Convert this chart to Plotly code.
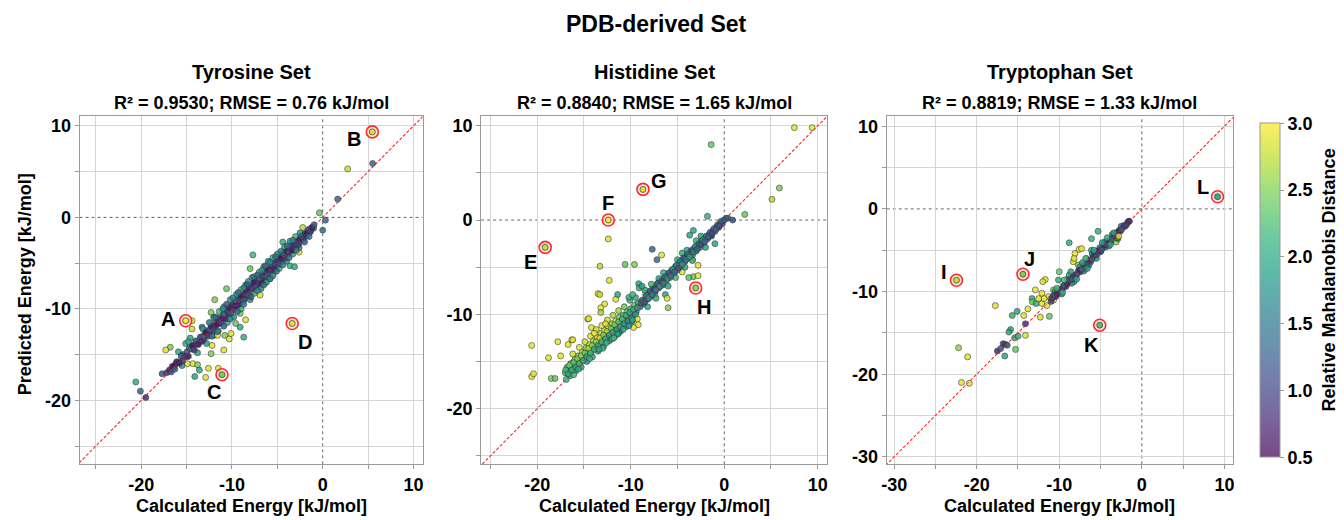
import plotly.graph_objects as go

# ---------------- DATA ----------------
# Tyrosine set: calculated energy, predicted energy, relative Mahalanobis distance
tyr_calc = [
    5.5, 2.75, 1.65, -0.36, 0.3, 0.0, -20.6, -20.1, -19.5, -17.7, -17.2, -16.8, -17.3, -16.4, -16.1, -15.9,
    -15.5, -15.1, -14.9, -14.4, -14.4, -14.6, -14.3, -14.1, -13.8, -13.6, -13.3, -13.1, -12.9, -12.6, -12.2, -12.3,
    -12.0, -12.3, -12.0, -11.6, -11.5, -10.8, -10.9, -10.3, -10.1, -10.6, -9.6, -9.1, -8.7, -8.5, -9.1, -7.7,
    -6.3, -5.5, -5.8, -3.6, -3.1, -2.6, -4.4, -4.2, -2.2, -8.0, -7.5, -6.9, -10.9, -11.9, -13.3, -14.2,
    -16.6, -16.2, -15.8, -15.4, -15.0, -14.7, -14.3, -14.0, -13.7, -13.4, -13.1, -12.8, -12.5, -12.2, -11.9, -11.6,
    -11.3, -11.0, -10.8, -10.5, -10.3, -10.0, -9.8, -9.6, -9.4, -9.2, -9.0, -8.8, -8.6, -8.4, -8.2, -8.0,
    -7.8, -7.6, -7.4, -7.2, -7.0, -6.8, -6.6, -6.4, -6.2, -6.0, -5.8, -5.6, -5.4, -5.2, -5.0, -4.8,
    -4.6, -4.4, -4.2, -4.0, -3.8, -3.6, -3.4, -3.2, -3.0, -2.8, -2.6, -2.4, -2.2, -2.0, -1.8, -1.6,
    -1.4, -1.2, -1.0,
    -14.8, -13.2, -12.0, -11.4, -10.2, -9.5, -9.0, -8.5, -8.2, -7.8, -7.0, -6.5, -6.0, -5.5, -5.0, -4.2,
    -3.6, -3.0, -2.5, -10.5, -9.8, -9.0, -8.0, -7.5, -6.8, -6.2, -5.5, -4.8, -4.0, -3.3, -2.6, -12.8,
    -13.8, -15.5, -11.5,
    -16.9, -16.7, -16.45, -16.3, -16.05, -15.85, -15.6, -15.45, -15.2, -14.95, -14.8, -14.55, -14.35, -14.15, -13.9, -13.75,
    -13.5, -13.3, -13.05, -12.9, -12.65, -12.45, -12.3, -12.05, -11.85, -11.7, -11.45, -11.2, -11.05, -10.9, -10.7, -10.45,
    -10.25, -10.1, -9.9, -9.7, -9.5, -9.35, -9.15, -8.95, -8.75, -8.55, -8.35, -8.15, -7.95, -7.75, -7.55, -7.35,
    -7.15, -6.95, -6.75, -6.55, -6.35, -6.15, -5.95, -5.75, -5.55, -5.35, -5.15, -4.95, -4.75, -4.55, -4.35, -4.15,
    -3.95, -3.75, -3.55, -3.35, -3.15, -2.95, -2.75, -2.55, -2.35, -2.15, -1.95, -1.75, -1.55, -1.35, -1.15, -0.95,
    -12.5, -11.8, -11.0, -10.6, -9.9, -9.3, -8.7, -8.3, -7.6, -7.2, -6.7, -6.3, -5.8, -5.2, -4.6, -3.9,
    -3.3, -12.2, -11.6, -10.9, -10.2, -9.4, -8.7, -7.9, -7.2, -6.5, -5.8, -5.1, -4.4, -3.7, -2.9, -2.0,
    -1.5,
]
tyr_pred = [
    5.9, 5.3, 2.0, 0.5, -0.3, -1.4, -18.0, -19.0, -19.7, -17.1, -17.0, -14.2, -14.5, -16.4, -15.8, -14.7,
    -15.1, -13.8, -16.0, -11.3, -12.2, -13.2, -16.0, -17.4, -16.1, -16.7, -12.0, -12.9, -17.5, -16.5, -14.0, -14.9,
    -12.9, -10.4, -10.9, -12.9, -16.5, -12.9, -14.5, -13.3, -12.7, -7.8, -11.6, -12.0, -13.1, -11.2, -10.5, -4.1,
    -7.1, -6.2, -6.7, -5.3, -5.4, -3.8, -2.7, -3.8, -1.1, -5.6, -6.7, -8.5, -9.8, -9.0, -13.5, -14.0,
    -16.3, -16.0, -15.9, -15.0, -15.2, -14.3, -14.4, -13.5, -13.9, -13.1, -13.4, -12.4, -12.7, -11.9, -12.2, -11.3,
    -11.6, -10.6, -11.0, -10.2, -10.6, -9.6, -10.1, -9.2, -9.6, -8.9, -9.3, -8.4, -8.9, -8.1, -8.6, -7.7,
    -8.1, -7.3, -7.7, -6.8, -7.3, -6.5, -6.9, -6.1, -6.6, -5.7, -6.1, -5.3, -5.7, -4.9, -5.3, -4.5,
    -4.9, -4.1, -4.5, -3.8, -4.0, -3.4, -3.6, -3.0, -3.2, -2.6, -2.8, -2.2, -2.4, -1.9, -2.0, -1.5,
    -1.6, -1.1, -1.2,
    -13.6, -12.2, -11.0, -10.3, -9.0, -8.4, -7.9, -7.4, -7.0, -6.6, -6.0, -5.4, -4.8, -4.4, -4.0, -3.2,
    -2.6, -2.1, -1.7, -11.5, -10.9, -10.0, -9.0, -8.3, -7.8, -7.1, -6.4, -5.6, -4.8, -4.0, -3.3, -13.8,
    -14.8, -16.2, -12.4,
    -16.7, -16.9, -16.3, -16.6, -15.8, -15.95, -15.2, -15.7, -15.2, -14.7, -15.2, -14.4, -14.0, -14.5, -13.6, -13.85,
    -13.1, -13.55, -13.0, -12.6, -13.0, -12.3, -11.9, -12.4, -11.6, -11.75, -11.05, -11.45, -11.0, -10.6, -11.1, -10.3,
    -9.85, -10.45, -9.6, -9.75, -9.05, -9.6, -9.1, -8.6, -9.15, -8.4, -7.95, -8.5, -7.65, -7.8, -7.1, -7.6,
    -7.1, -6.65, -7.15, -6.4, -6.0, -6.5, -5.7, -5.8, -5.15, -5.6, -5.1, -4.7, -5.1, -4.4, -4.0, -4.45,
    -3.7, -3.8, -3.2, -3.6, -3.1, -2.7, -3.05, -2.4, -2.05, -2.4, -1.75, -1.8, -1.3, -1.55, -1.1, -0.8,
    -11.5, -10.9, -10.0, -9.5, -8.8, -8.2, -7.7, -7.3, -6.5, -6.3, -5.8, -5.3, -4.9, -4.3, -3.7, -3.1,
    -2.5, -13.0, -12.5, -11.9, -11.1, -10.3, -9.5, -8.7, -8.0, -7.4, -6.7, -5.9, -5.2, -4.4, -3.6, -2.7,
    -2.1,
]
tyr_mahal = [
    1.3, 2.8, 1.4, 2.4, 1.3, 1.4, 2.1, 1.3, 0.8, 1.2, 0.9, 2.5, 2.9, 1.3, 1.4, 2.0,
    1.3, 2.1, 2.9, 2.9, 2.8, 2.0, 2.9, 2.0, 2.5, 2.0, 1.4, 2.9, 2.9, 2.9, 2.9, 2.5,
    2.4, 2.5, 2.1, 2.9, 2.9, 2.5, 2.9, 2.9, 2.9, 2.4, 2.4, 2.1, 2.1, 2.9, 2.5, 2.2,
    2.1, 2.9, 2.4, 2.1, 2.1, 2.9, 2.1, 2.4, 2.7, 2.4, 2.1, 2.9, 2.1, 2.5, 2.1, 2.1,
    1.3, 0.9, 1.1, 1.4, 0.8, 1.6, 0.7, 1.9, 1.0, 1.2, 0.8, 1.5, 0.7, 1.1, 0.9, 1.3,
    0.6, 1.7, 0.8, 1.0, 0.7, 1.4, 0.9, 1.8, 0.6, 1.2, 0.8, 1.6, 1.0, 0.7, 1.3, 0.9,
    1.5, 1.1, 0.6, 1.9, 0.8, 1.2, 0.7, 1.4, 1.0, 0.8, 1.6, 0.9, 0.6, 1.3, 1.0, 0.7,
    1.2, 0.9, 1.5, 0.6, 1.1, 0.8, 1.3, 0.7, 1.0, 0.9, 1.2, 0.7, 1.4, 0.8, 1.1, 0.9,
    1.3, 0.8, 1.6,
    2.0, 1.9, 2.1, 2.2, 1.9, 2.0, 2.3, 1.8, 2.1, 1.9, 2.2, 2.0, 1.8, 2.1, 1.9, 2.0,
    1.8, 2.2, 1.9, 2.0, 1.8, 2.1, 1.9, 2.2, 1.8, 2.0, 1.9, 2.1, 1.8, 2.0, 1.9, 1.9,
    2.0, 1.8, 2.1,
    0.7, 1.1, 0.6, 1.3, 0.9, 0.65, 1.5, 0.8, 1.0, 1.2, 0.75, 1.4, 0.6, 1.0, 1.3, 0.7,
    1.1, 0.8, 1.5, 0.6, 0.9, 1.2, 0.7, 1.0, 1.4, 0.6, 0.9, 1.1, 0.7, 1.3, 0.8, 1.0,
    0.6, 1.2, 0.9, 0.7, 1.5, 0.8, 1.0, 0.65, 1.2, 0.9, 0.7, 1.3, 0.8, 1.0, 0.6, 1.1,
    0.9, 1.4, 0.7, 1.0, 0.8, 1.2, 0.6, 0.9, 1.3, 0.7, 1.0, 0.8, 1.1, 0.6, 1.4, 0.9,
    0.7, 1.0, 1.2, 0.6, 0.8, 1.1, 0.9, 0.7, 1.3, 0.8, 1.0, 0.6, 1.2, 0.9, 0.7, 1.1,
    1.5, 1.3, 1.7, 1.2, 1.6, 1.4, 1.7, 1.2, 1.5, 1.3, 1.7, 1.2, 1.6, 1.4, 1.5, 1.3,
    1.6, 1.4, 1.5, 1.2, 1.6, 1.3, 1.5, 1.2, 1.6, 1.4, 1.5, 1.3, 1.6, 1.4, 1.5, 1.3,
    1.4,
]

# Histidine set
his_calc = [
    7.5, 9.4, -1.4, 5.9, 5.1, 2.2, -1.8, 0.9, -20.6, -20.6, -20.4, -18.8, -17.8, -18.5, -18.1, -17.5,
    -16.7, -16.3, -14.6, -13.3, -12.4, -12.3, -10.6, -9.6, -7.7, -6.7, -7.2, -13.5, -13.3, -12.8, -13.2, -13.2,
    -11.6, -11.4, -9.15, -9.1, -6.0, -14.5, -14.2, -16.2, -3.3, -2.8, -3.8, -2.8, -3.4, -4.5, -3.7, -3.3,
    -1.35, -1.0, 0.4, -6.3, -6.1, -7.4, -8.4, -9.3, -9.2, -9.7,
    -17.0, -16.8, -16.6, -16.4, -16.2, -16.0, -15.8, -15.6, -15.4, -15.2, -15.0, -14.8, -14.6, -14.4, -14.2, -14.0,
    -13.8, -13.6, -13.4, -13.2, -13.0, -12.8, -12.6, -12.4, -12.2, -12.0, -11.8, -11.6, -11.4, -11.2, -11.0, -10.8,
    -10.6, -10.4, -10.2, -10.0, -9.8, -9.6, -9.4, -9.2,
    -16.5, -15.9, -15.3, -14.7, -14.1, -13.5, -12.9, -12.3, -11.7, -11.1, -10.5, -9.9, -16.9, -16.1, -13.0, -11.3,
    -16.2, -15.5, -14.9, -14.3, -13.7, -13.1, -12.5, -11.9, -11.3, -10.7, -10.1, -9.5, -13.9, -12.7,
    -9.0, -8.8, -8.6, -8.4, -8.2, -8.0, -7.8, -7.6, -7.4, -7.2, -7.0, -6.8, -6.6, -6.4, -6.2, -6.0,
    -5.8, -5.6, -5.4, -5.2, -5.0, -4.8, -4.6, -4.4, -4.2, -4.0, -3.8, -3.6, -3.4, -3.2, -3.0, -2.8,
    -2.6, -2.4, -2.2, -2.0, -1.8, -1.6, -1.4, -1.2, -1.0, -0.8, -0.6, -0.4, -0.2, 0.2,
    -8.5, -7.8, -7.0, -6.5, -5.0, -4.5, -4.0, -3.0, -2.5, -8.2, -7.3, -6.0, -5.2, -4.2, -3.4, -2.0,
    -10.2, -9.8, -8.8,
    -16.95, -16.7, -16.55, -16.3, -16.1, -15.9, -15.7, -15.5, -15.3, -15.1, -14.9, -14.7, -14.5, -14.3, -14.1, -13.9,
    -13.7, -13.5, -13.3, -13.1, -12.9, -12.7, -12.5, -12.3, -12.1, -11.9, -11.7, -11.5, -11.3, -11.1, -10.9, -10.7,
    -10.5, -10.3, -10.1, -9.9, -9.7, -9.5, -9.3,
    -12.6, -12.0, -11.4, -10.8, -10.2, -9.8, -11.8, -13.4, -14.4, -15.6,
    -8.9, -8.7, -8.5, -8.3, -8.1, -7.9, -7.7, -7.5, -7.3, -7.1, -6.9, -6.7, -6.5, -6.3, -6.1, -5.9,
    -5.7, -5.5, -5.3, -5.1, -4.9, -4.7, -4.5, -4.3, -4.1, -3.9, -3.7, -3.5, -3.3, -3.1, -2.9, -2.7,
    -2.5, -2.3, -2.1, -1.9, -1.7, -1.5, -1.3, -1.1, -0.9, -0.7, -0.5, -0.3, 0.0,
]
his_pred = [
    9.8, 9.8, 8.0, 3.4, 2.2, 0.6, 0.4, 0.0, -13.3, -16.6, -16.3, -14.6, -12.9, -16.8, -16.8, -14.4,
    -13.2, -12.7, -10.5, -4.9, -2.0, -6.4, -4.7, -4.7, -3.1, -3.7, -4.2, -7.8, -7.9, -8.9, -9.3, -9.8,
    -8.4, -7.9, -6.75, -7.2, -9.3, -10.45, -11.4, -12.7, -6.0, -5.9, -6.1, -4.8, -4.2, -5.5, -1.6, -1.1,
    -1.7, -2.5, 0.2, -7.9, -8.3, -7.9, -7.8, -10.5, -11.1, -11.4,
    -16.2, -15.6, -16.0, -15.2, -15.8, -14.8, -15.3, -14.4, -15.0, -14.0, -14.6, -13.6, -14.2, -13.2, -13.9, -12.8,
    -13.5, -12.4, -13.1, -12.0, -12.7, -11.7, -12.4, -11.3, -12.0, -11.0, -11.7, -10.7, -11.4, -10.3, -11.0, -10.1,
    -10.8, -9.7, -10.4, -9.4, -10.1, -9.0, -9.7, -8.8,
    -16.5, -16.0, -15.6, -15.0, -14.5, -13.9, -13.4, -12.8, -12.3, -11.8, -11.3, -10.8, -16.9, -16.4, -13.6, -12.0,
    -14.2, -13.5, -12.9, -12.3, -11.6, -11.2, -10.6, -10.1, -9.6, -9.2, -8.5, -8.2, -12.0, -11.0,
    -9.2, -8.5, -8.9, -8.1, -8.4, -7.7, -8.1, -7.2, -7.6, -6.8, -7.2, -6.4, -6.9, -6.1, -6.5, -5.7,
    -6.1, -5.3, -5.7, -4.9, -5.3, -4.5, -4.9, -4.1, -4.4, -3.7, -4.0, -3.4, -3.7, -3.0, -3.3, -2.6,
    -2.9, -2.2, -2.5, -1.8, -2.0, -1.5, -1.6, -1.1, -1.2, -0.7, -0.8, -0.3, -0.4, 0.2,
    -7.4, -6.8, -6.2, -5.6, -4.2, -3.5, -3.2, -2.2, -1.7, -9.2, -8.3, -7.0, -6.1, -5.0, -4.3, -2.9,
    -8.2, -7.9, -7.0,
    -15.9, -16.3, -15.4, -15.9, -15.1, -15.6, -14.7, -15.2, -14.4, -14.9, -14.1, -14.5, -13.6, -14.1, -13.3, -13.7,
    -12.9, -13.3, -12.5, -12.9, -12.2, -12.6, -11.8, -12.2, -11.5, -11.9, -11.1, -11.6, -10.8, -11.3, -10.5, -11.0,
    -10.1, -10.7, -9.8, -10.4, -9.5, -10.0, -9.3,
    -13.0, -12.6, -12.1, -11.6, -11.2, -10.6, -12.5, -13.7, -14.7, -15.8,
    -8.8, -8.6, -8.7, -8.0, -8.3, -7.5, -7.9, -7.3, -7.4, -6.7, -7.0, -6.5, -6.7, -6.0, -6.2, -5.6,
    -5.9, -5.2, -5.5, -4.8, -5.1, -4.4, -4.7, -4.0, -4.2, -3.6, -3.9, -3.2, -3.4, -2.8, -3.1, -2.5,
    -2.6, -2.1, -2.3, -1.7, -1.8, -1.3, -1.4, -0.9, -1.0, -0.5, -0.6, -0.1, 0.0,
]
his_mahal = [
    2.9, 2.9, 2.4, 2.5, 2.7, 2.4, 2.1, 1.0, 2.9, 2.9, 2.9, 2.9, 2.9, 2.5, 2.4, 2.9,
    2.9, 2.9, 2.9, 2.7, 2.9, 2.9, 2.4, 2.5, 1.3, 2.9, 1.4, 2.9, 2.8, 2.9, 2.9, 2.6,
    2.9, 2.0, 2.0, 2.1, 2.5, 2.9, 2.9, 2.9, 2.4, 2.9, 2.3, 2.9, 2.9, 2.9, 2.0, 2.0,
    1.6, 2.0, 1.6, 2.0, 2.9, 2.9, 2.9, 2.9, 2.9, 2.9,
    2.3, 2.2, 2.1, 2.4, 2.2, 2.5, 2.1, 2.6, 2.3, 2.7, 2.2, 2.5, 2.1, 2.8, 2.3, 2.6,
    2.2, 2.9, 2.0, 2.7, 2.3, 2.8, 2.1, 2.9, 2.4, 2.6, 2.2, 2.8, 2.0, 2.5, 2.2, 2.3,
    1.9, 2.4, 2.0, 2.2, 1.8, 2.3, 1.9, 2.1,
    2.0, 1.9, 2.0, 1.9, 2.0, 1.8, 2.0, 1.9, 2.1, 1.9, 2.0, 1.8, 2.1, 2.2, 2.1, 2.0,
    2.8, 2.9, 2.8, 2.9, 2.8, 2.9, 2.8, 2.7, 2.6, 2.4, 2.2, 2.1, 2.9, 2.9,
    1.6, 1.8, 1.4, 2.0, 1.2, 1.7, 1.3, 1.9, 1.1, 1.6, 1.4, 1.8, 1.2, 1.5, 1.9, 1.3,
    1.6, 1.1, 1.7, 1.4, 1.9, 1.2, 1.6, 1.8, 1.3, 1.9, 1.5, 1.1, 1.7, 1.4, 2.0, 1.2,
    1.6, 1.9, 1.3, 1.7, 1.2, 1.5, 1.1, 1.4, 1.8, 1.3, 1.0, 1.5, 1.2, 1.3,
    2.0, 2.2, 2.0, 2.1, 2.0, 2.1, 2.0, 2.1, 2.0, 2.0, 2.1, 2.0, 2.2, 2.0, 2.1, 2.0,
    2.1, 2.2, 1.9,
    2.2, 2.0, 2.4, 2.1, 2.3, 2.0, 2.5, 2.2, 2.6, 2.1, 2.4, 2.0, 2.7, 2.2, 2.5, 2.1,
    2.6, 2.0, 2.8, 2.2, 2.5, 2.1, 2.7, 2.0, 2.4, 2.1, 2.5, 1.9, 2.3, 2.0, 2.2, 1.9,
    2.1, 1.8, 2.0, 1.9, 2.1, 1.8, 1.9,
    2.0, 2.1, 1.9, 2.0, 1.8, 2.0, 2.2, 2.0, 2.1, 2.0,
    1.3, 1.7, 1.1, 1.5, 1.8, 1.2, 1.6, 1.0, 1.7, 1.3, 1.9, 1.1, 1.6, 1.4, 1.8, 1.2,
    1.5, 1.9, 1.3, 1.7, 1.1, 1.5, 1.8, 1.2, 1.6, 1.4, 1.9, 1.2, 1.6, 1.8, 1.3, 1.5,
    1.1, 1.7, 1.3, 1.6, 1.2, 1.4, 1.0, 1.5, 1.2, 1.3, 1.1, 1.4, 1.2,
]

# Tryptophan set
trp_calc = [
    -17.75, -22.2, -21.1, -21.85, -20.9, -8.8, -6.1, -5.3, -8.1, -7.6, -7.3, -8.3, -8.2, -7.7, -10.0, -11.7,
    -12.0, -12.9, -13.3, -13.25, -12.8, -12.1, -11.5, -11.2, -12.3, -13.8, -14.3, -15.1, -15.7, -14.1, -15.9, -16.1,
    -15.4, -15.0, -14.1, -15.3, -16.6, -16.8, -16.5, -17.5, -17.1, -16.3, -11.3, -10.7, -11.0, -11.85, -12.1, -12.5,
    -10.7, -10.1, -8.2, -8.8, -6.7, -6.1, -5.9, -3.1, -2.9, -5.0,
    -11.0, -10.7, -10.4, -10.1, -9.8, -9.5, -9.2, -8.9, -8.6, -8.3, -8.0, -7.7, -7.4, -7.1, -6.8, -6.5,
    -6.2, -5.9, -5.6, -5.3, -5.0, -4.7, -4.4, -4.1, -3.8, -3.5, -3.2, -2.9, -2.6, -2.3, -2.0, -1.7,
    -1.5, -9.0, -7.5, -6.0, -4.5, -3.6, -8.5, -7.0, -5.5, -4.0, -3.0, -10.5, -9.7, -2.5, -6.4, -5.1,
    -3.3,
    -10.85, -10.55, -10.25, -9.95, -9.65, -9.35, -9.05, -8.75, -8.45, -8.15, -7.85, -7.55, -7.25, -6.95, -6.65, -6.35,
    -6.05, -5.75, -5.45, -5.15, -4.85, -4.55, -4.25, -3.95, -3.65, -3.35, -3.05, -2.75, -2.45, -2.15, -1.85, -1.6,
    -9.4, -8.6, -7.2, -6.8, -5.8, -4.8, -4.2, -3.8, -6.6, -7.9, -9.6, -10.3, -2.8, -3.4,
]
trp_pred = [
    -11.7, -16.8, -17.9, -21.0, -21.1, -4.1, -3.6, -2.7, -5.4, -4.9, -4.8, -6.4, -6.0, -6.8, -7.6, -8.55,
    -8.8, -9.8, -10.85, -11.25, -11.45, -11.45, -11.7, -13.0, -13.1, -12.1, -12.9, -12.4, -12.9, -13.9, -14.6, -14.9,
    -15.6, -15.4, -15.3, -17.0, -17.8, -16.3, -16.4, -17.2, -16.9, -16.5, -10.6, -9.8, -10.85, -10.85, -10.2, -10.85,
    -11.05, -8.6, -8.8, -8.0, -6.0, -5.0, -5.6, -4.0, -3.6, -5.2,
    -11.2, -10.5, -10.6, -9.9, -10.0, -9.3, -9.4, -8.7, -8.8, -8.1, -8.2, -7.5, -7.6, -6.9, -7.0, -6.3,
    -6.4, -5.7, -5.8, -5.1, -5.1, -4.5, -4.6, -3.9, -4.0, -3.4, -3.3, -2.8, -2.7, -2.2, -2.1, -1.6,
    -1.5, -8.5, -7.0, -5.4, -4.0, -3.1, -9.0, -7.5, -6.0, -4.5, -3.5, -10.0, -10.3, -2.1, -6.8, -4.7,
    -3.0,
    -10.8, -10.4, -10.3, -9.8, -9.7, -9.2, -9.1, -8.6, -8.5, -8.0, -7.9, -7.4, -7.3, -6.8, -6.7, -6.2,
    -6.1, -5.6, -5.5, -5.0, -4.9, -4.4, -4.3, -3.8, -3.7, -3.2, -3.1, -2.6, -2.5, -2.0, -1.9, -1.5,
    -8.6, -7.6, -6.5, -6.0, -5.0, -4.1, -3.5, -4.3, -7.2, -8.5, -10.1, -9.6, -3.3, -2.9,
]
trp_mahal = [
    2.9, 2.6, 2.9, 2.9, 2.9, 2.1, 2.1, 2.1, 2.9, 2.9, 2.9, 2.9, 2.9, 2.6, 2.4, 2.9,
    2.9, 2.9, 2.1, 2.4, 2.1, 2.9, 2.9, 2.4, 2.9, 2.9, 2.9, 2.0, 2.1, 0.8, 2.0, 2.0,
    2.0, 2.1, 2.9, 2.4, 2.0, 0.8, 0.9, 0.8, 1.2, 1.3, 2.9, 2.4, 2.4, 2.9, 2.9, 2.9,
    2.9, 2.1, 2.1, 2.1, 2.9, 2.1, 1.3, 2.6, 2.1, 2.1,
    1.0, 1.3, 0.8, 1.5, 0.9, 1.2, 0.7, 1.4, 0.8, 1.1, 0.6, 1.3, 0.9, 1.6, 0.7, 1.0,
    1.2, 0.8, 1.4, 0.7, 1.1, 0.9, 1.3, 0.8, 1.0, 1.2, 0.7, 1.0, 1.3, 0.8, 1.1, 0.9,
    1.2, 1.8, 1.9, 1.7, 1.9, 1.8, 1.9, 1.8, 2.0, 1.9, 1.7, 1.9, 1.9, 1.6, 1.5, 1.6,
    1.5,
    0.9, 1.2, 0.7, 1.1, 0.8, 1.4, 0.7, 1.0, 1.2, 0.8, 1.1, 0.7, 1.3, 0.9, 1.1, 0.7,
    1.2, 0.9, 1.0, 0.8, 1.2, 0.7, 1.1, 0.8, 1.3, 0.9, 1.0, 0.7, 1.2, 0.9, 1.0, 0.8,
    2.2, 2.0, 1.9, 2.2, 2.0, 1.9, 2.1, 2.0, 1.9, 2.0, 2.1, 2.2, 2.9, 2.0,
]

# Highlighted (labelled) outliers
hl_labels = [["A", "B", "C", "D"], ["E", "F", "G", "H"], ["I", "J", "K", "L"]]
hl_calc = [[-15.1, 5.47, -11.1, -3.36], [-19.15, -12.4, -8.69, -3.05], [-22.45, -14.4, -5.1, 9.17]]
hl_pred = [[-11.3, 9.35, -17.2, -11.6], [-2.9, 0.0, 3.25, -7.2], [-8.63, -7.9, -14.07, 1.47]]
hl_mahal = [[3.0, 2.9, 2.5, 2.9], [2.8, 3.0, 2.9, 2.6], [2.8, 2.5, 2.3, 2.1]]
lbl_x = [[-17.0, 3.4, -12.0, -2.0], [-20.7, -12.4, -7.0, -2.2], [-24.0, -13.6, -6.1, 7.4]]
lbl_y = [[-11.1, 8.6, -19.1, -13.6], [-4.4, 1.8, 4.1, -9.2], [-7.6, -6.1, -16.5, 2.7]]

panel_titles = ["Tyrosine Set", "Histidine Set", "Tryptophan Set"]
stat_texts = ["R² = 0.9530; RMSE = 0.76 kJ/mol", "R² = 0.8840; RMSE = 1.65 kJ/mol",
              "R² = 0.8819; RMSE = 1.33 kJ/mol"]
x_ranges = [[-26.8, 11.0], [-26.0, 11.0], [-30.9, 11.0]]
y_ranges = [[-27.0, 11.05], [-25.9, 11.0], [-30.9, 11.2]]
major_ticks = [[-20, -10, 0, 10], [-20, -10, 0, 10], [-30, -20, -10, 0, 10]]
grid_ticks = [[-25, -20, -15, -10, -5, 5, 10], [-25, -20, -15, -10, -5, 5, 10],
              [-30, -25, -20, -15, -10, -5, 5, 10]]
cbar_ticks = [0.5, 1.0, 1.5, 2.0, 2.5, 3.0]

# ---------------- STYLE ----------------
W, H = 1344, 520
FONT = "Liberation Sans, Arial, sans-serif"
viridis = ['#440154', '#482878', '#3e4989', '#31688e', '#26828e', '#1f9e89',
           '#35b779', '#6ece58', '#b5de2b', '#fde725']
def blend(hx, a=0.72):
    r, g, b = int(hx[1:3], 16), int(hx[3:5], 16), int(hx[5:7], 16)
    return "rgb(%d,%d,%d)" % (round(r * a + 255 * (1 - a)), round(g * a + 255 * (1 - a)), round(b * a + 255 * (1 - a)))
n = len(viridis)
scale_full = [[i / (n - 1), c] for i, c in enumerate(viridis)]
scale_soft = [[i / (n - 1), blend(c)] for i, c in enumerate(viridis)]

px_x = [(74, 419), (478, 826), (886, 1234)]
px_y = (117, 467)
def dom_x(a, b):
    return [a / W, b / W]
dom_y = [1 - px_y[1] / H, 1 - px_y[0] / H]

fig = go.Figure()
panels = [(tyr_calc, tyr_pred, tyr_mahal), (his_calc, his_pred, his_mahal), (trp_calc, trp_pred, trp_mahal)]
for i, (cx, py, cm) in enumerate(panels):
    assert len(cx) == len(py) == len(cm), (i, len(cx), len(py), len(cm))
    xa = "x" if i == 0 else "x%d" % (i + 1)
    ya = "y" if i == 0 else "y%d" % (i + 1)
    # zero lines
    fig.add_shape(type="line", xref=xa, yref=ya + " domain", x0=0, x1=0, y0=0, y1=1, layer="below",
                  line=dict(color="#666666", width=1, dash="3px,3px"))
    fig.add_shape(type="line", xref=xa + " domain", yref=ya, x0=0, x1=1, y0=0, y1=0, layer="below",
                  line=dict(color="#666666", width=1, dash="3px,3px"))
    lo = min(x_ranges[i][0], y_ranges[i][0]) - 1
    hi = max(x_ranges[i][1], y_ranges[i][1]) + 1
    fig.add_trace(go.Scatter(x=[lo, hi], y=[lo, hi], mode="lines", xaxis=xa, yaxis=ya,
                             line=dict(color="#ff3030", width=1.1, dash="3px,2px"), hoverinfo="skip",
                             showlegend=False))
    fig.add_trace(go.Scatter(x=cx, y=py, mode="markers", xaxis=xa, yaxis=ya, showlegend=False,
                             marker=dict(size=6, color=cm, colorscale=scale_full, cmin=0.5, cmax=3.0,
                                         opacity=0.85, line=dict(color="#333333", width=0.7))))
    fig.add_trace(go.Scatter(x=[lo, hi], y=[lo, hi], mode="lines", xaxis=xa, yaxis=ya,
                             line=dict(color="rgba(255,48,48,0.55)", width=1, dash="3px,2px"), hoverinfo="skip",
                             showlegend=False))
    fig.add_trace(go.Scatter(x=hl_calc[i], y=hl_pred[i], mode="markers", xaxis=xa, yaxis=ya, showlegend=False,
                             marker=dict(size=12, color="rgba(255,215,215,0.7)",
                                         line=dict(color="#ff2a2a", width=1.6))))
    fig.add_trace(go.Scatter(x=hl_calc[i], y=hl_pred[i], mode="markers", xaxis=xa, yaxis=ya, showlegend=False,
                             marker=dict(size=6, color=hl_mahal[i], colorscale=scale_full, cmin=0.5, cmax=3.0,
                                         line=dict(color="#333333", width=0.7))))
    for lab, lx, ly in zip(hl_labels[i], lbl_x[i], lbl_y[i]):
        fig.add_annotation(x=lx, y=ly, xref=xa, yref=ya, text="<b>%s</b>" % lab, showarrow=False,
                           xanchor="center", yanchor="middle",
                           font=dict(family=FONT, size=20, color="black"))

    axcommon = dict(showline=True, mirror=True, linecolor="#9a9a9a", linewidth=1, zeroline=False,
                    ticks="outside", ticklen=4, tickcolor="#9a9a9a", showgrid=False,
                    tickfont=dict(family=FONT, size=18, color="black", weight="bold"),
                    minor=dict(tickmode="array", tickvals=grid_ticks[i], showgrid=True, gridcolor="#d6d6d6",
                               gridwidth=1.3, ticks="outside", ticklen=4, tickcolor="#9a9a9a"))
    fig.update_layout(**{
        ("xaxis" if i == 0 else "xaxis%d" % (i + 1)): dict(
            domain=dom_x(*px_x[i]), range=x_ranges[i], anchor=ya, tickmode="array",
            tickvals=major_ticks[i], ticktext=[str(v) for v in major_ticks[i]], **axcommon),
        ("yaxis" if i == 0 else "yaxis%d" % (i + 1)): dict(
            domain=dom_y, range=y_ranges[i], anchor=xa, tickmode="array",
            tickvals=major_ticks[i], ticktext=[str(v) for v in major_ticks[i]], **axcommon),
    })
    cxp = (px_x[i][0] + px_x[i][1]) / 2
    for txt, yy, sz in [(panel_titles[i], 72, 20), (stat_texts[i], 104, 18),
                        ("Calculated Energy [kJ/mol]", 509, 18)]:
        fig.add_annotation(x=cxp / W, y=1 - yy / H, xref="paper", yref="paper", text="<b>%s</b>" % txt,
                           showarrow=False, font=dict(family=FONT, size=sz, color="black"),
                           xanchor="center", yanchor="middle")

# colorbar (soft viridis, as in the reference)
fig.add_trace(go.Scatter(x=[None], y=[None], mode="markers", xaxis="x3", yaxis="y3", showlegend=False,
                         marker=dict(size=1, color=[0.5], colorscale=scale_soft, cmin=0.5, cmax=3.0, showscale=True,
                                     colorbar=dict(x=1262 / W, xanchor="left", xpad=0, ypad=0, thickness=20,
                                                   y=1 - 292 / H, yanchor="middle", len=336 / H, lenmode="fraction",
                                                   outlinewidth=1, outlinecolor="#9a9a9a",
                                                   tickmode="array", tickvals=cbar_ticks,
                                                   ticktext=["%.1f" % v for v in cbar_ticks],
                                                   ticks="outside", ticklen=4, tickcolor="#9a9a9a",
                                                   tickfont=dict(family=FONT, size=18, color="black", weight="bold")))))

fig.add_annotation(x=654 / W, y=1 - 24 / H, xref="paper", yref="paper", text="<b>PDB-derived Set</b>",
                   showarrow=False, font=dict(family=FONT, size=23, color="black"),
                   xanchor="center", yanchor="middle")
fig.add_annotation(x=19 / W, y=1 - 286 / H, xref="paper", yref="paper", text="<b>Predicted Energy [kJ/mol]</b>",
                   showarrow=False, textangle=-90, font=dict(family=FONT, size=18, color="black"),
                   xanchor="center", yanchor="middle")
fig.add_annotation(x=1331 / W, y=1 - 282 / H, xref="paper", yref="paper",
                   text="<b>Relative Mahalanobis Distance</b>",
                   showarrow=False, textangle=-90, font=dict(family=FONT, size=18, color="black"),
                   xanchor="center", yanchor="middle")

fig.update_layout(width=W, height=H, margin=dict(l=0, r=0, t=0, b=0), plot_bgcolor="white",
                  paper_bgcolor="white", showlegend=False)
fig.write_html("out.html")
